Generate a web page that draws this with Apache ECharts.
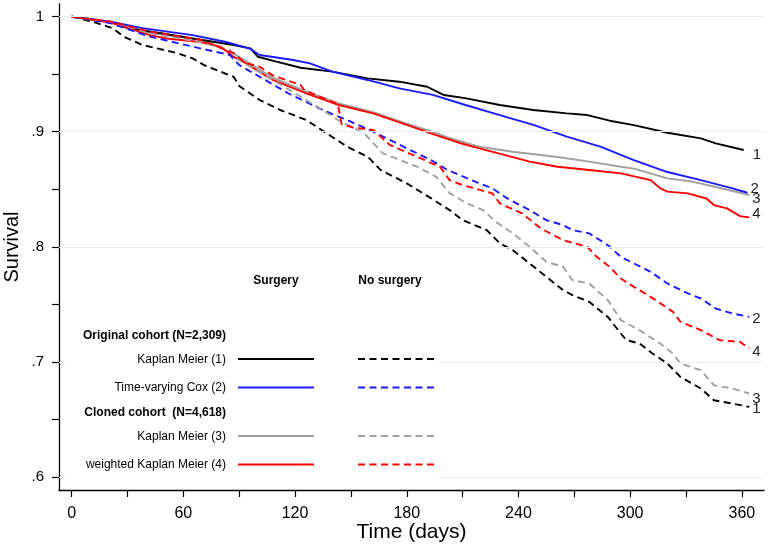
<!DOCTYPE html>
<html>
<head>
<meta charset="utf-8">
<script src="https://cdn.jsdelivr.net/npm/echarts@6/dist/echarts.min.js"></script>
<style>html,body{margin:0;padding:0;background:#fff}#c{width:768px;height:547px}</style>
</head>
<body>
<div id="c"></div>
<script>
// ---- Tick definitions ----
var xTickValues = [0, 30, 60, 90, 120, 150, 180, 210, 240, 270, 300, 330, 360];
var xLabelValues = [0, 60, 120, 180, 240, 300, 360];
var yTickValues = [0.6, 0.65, 0.7, 0.75, 0.8, 0.85, 0.9, 0.95, 1];
var yLabelValues = [0.6, 0.7, 0.8, 0.9, 1];
var yGridValues = [0.6, 0.7, 0.8, 0.9, 1];

// ---- Surgery (solid) ----
var km1SurgDays = [0,21,30,48,65,87,96,100,110,123,140,159,176,191,200,212,230,248,266,277,289,302,320,338,346,361];
var km1SurgSurv = [1,.9954,.990,.9856,.981,.9754,.9725,.9652,.9609,.9556,.9522,.9464,.9435,.9391,.9319,.929,.9232,.9189,.916,.9145,.9096,.9058,.8991,.8942,.8899,.8841];

var cox2SurgDays = [0,21,38,65,83,96,101,119,128,140,159,176,194,212,230,248,266,284,302,320,338,355,363];
var cox2SurgSurv = [1,.9957,.990,.984,.978,.972,.9667,.9623,.9594,.9522,.945,.9377,.932,.923,.9145,.906,.8957,.887,.8754,.865,.858,.8508,.847];

var km3SurgDays = [0,21,42,69,87,108,126,144,162,180,193,203,219,237,261,278,295,302,320,334,346,364];
var km3SurgSurv = [1,.9955,.986,.980,.968,.947,.935,.9245,.917,.907,.9006,.8945,.887,.8826,.878,.874,.8696,.868,.8595,.8565,.852,.845];

var wkm4SurgDays = [0,21,42,51,69,80,87,93,108,126,144,162,180,193,209,219,237,246,261,278,295,311,316,320,331,341,345,352,359,364];
var wkm4SurgSurv = [1,.9948,.984,.981,.978,.974,.965,.960,.945,.9334,.923,.916,.906,.8986,.890,.8856,.878,.874,.8696,.8667,.8638,.858,.851,.848,.8464,.842,.8363,.8334,.8267,.8256];

// ---- No surgery (dashed) ----
var km1NoDays = [0,11,22,28,38,57,65,71,80,87,90,101,112,126,137,148,159,166,180,193,203,210,223,230,237,246,255,264,269,278,288,295,298,305,312,320,327,338,345,355,364];
var km1NoSurv = [1,.9957,.990,.9826,.9754,.9682,.9638,.958,.9522,.9478,.9397,.9276,.9189,.9102,.8986,.887,.8783,.8667,.8551,.8423,.8319,.8232,.8145,.803,.7971,.7856,.7739,.7623,.758,.7522,.7391,.7247,.7189,.716,.7073,.6986,.687,.6769,.6667,.6638,.6609];

var cox2NoDays = [0,21,42,69,85,90,101,117,135,150,162,180,193,202,219,226,234,246,255,264,269,278,288,295,302,311,320,331,338,346,355,364];
var cox2NoSurv = [1,.9943,.9826,.9725,.9667,.958,.9478,.9328,.9189,.9087,.900,.8856,.8754,.8667,.8551,.8508,.8421,.8319,.8232,.8189,.8145,.8117,.8015,.7913,.7856,.7783,.7682,.7595,.7551,.7464,.7421,.7391];

var km3NoDays = [0,21,42,69,85,90,105,123,133,143,157,167,186,196,203,212,221,228,237,246,255,264,269,278,288,295,305,316,323,327,338,345,355,364];
var km3NoSurv = [1,.9957,.9856,.978,.971,.9623,.948,.9304,.9206,.9102,.8989,.8815,.8693,.8606,.8467,.838,.8319,.8215,.8117,.80,.787,.7826,.771,.7682,.7537,.7363,.7276,.716,.7073,.6986,.6928,.6797,.6769,.6725];

var wkm4NoDays = [0,21,42,69,87,93,101,108,123,125,143,145,151,162,171,186,198,203,210,226,230,242,252,264,277,282,289,295,302,311,323,327,338,348,359,364];
var wkm4NoSurv = [1,.9957,.987,.980,.9684,.960,.9565,.949,.9406,.936,.924,.9067,.9037,.9015,.8884,.878,.8693,.858,.8537,.8464,.8377,.829,.816,.8058,.80,.7913,.7826,.7725,.7652,.7565,.7435,.7348,.7276,.7189,.7174,.7117];

var FONT = "'Liberation Sans', Arial, sans-serif";
var DASH = [7, 4.5];

function pairs(d, v) { return d.map(function (x, i) { return [x, v[i]]; }); }

function curve(name, days, surv, color, dashed, lbl, dist, dy, z) {
  return {
    type: 'line', name: name, data: pairs(days, surv), showSymbol: false, symbol: 'none',
    z: z, silent: true,
    lineStyle: { color: color, width: 1.9, type: dashed ? DASH : 'solid', cap: 'butt' },
    endLabel: { show: true, formatter: lbl, distance: dist, offset: [0, dy],
      fontFamily: FONT, fontSize: 15, color: '#222' }
  };
}

var chart = echarts.init(document.getElementById('c'), null, { renderer: 'canvas' });

var legendRows = [
  { text: 'Original cohort (N=2,309)', y: 336, bold: true },
  { text: 'Kaplan Meier (1)', y: 359.5, color: '#000000' },
  { text: 'Time-varying Cox (2)', y: 388, color: '#1a1aff' },
  { text: 'Cloned cohort  (N=4,618)', y: 412.5, bold: true },
  { text: 'Kaplan Meier (3)', y: 436.5, color: '#a0a0a0' },
  { text: 'weighted Kaplan Meier (4)', y: 465, color: '#ff0000' }
];

var graphics = [{ type: 'rect', shape: { x: 66, y: 262, width: 373, height: 221 }, style: { fill: '#fff' }, z: 100, silent: true },
  { type: 'text', x: 276, y: 281, style: { text: 'Surgery', font: 'bold 12px ' + FONT, fill: '#000', textAlign: 'center', textVerticalAlign: 'middle' }, z: 101 },
  { type: 'text', x: 390, y: 281, style: { text: 'No surgery', font: 'bold 12px ' + FONT, fill: '#000', textAlign: 'center', textVerticalAlign: 'middle' }, z: 101 }];
legendRows.forEach(function (r) {
  graphics.push({ type: 'text', x: 226, y: r.y, z: 101,
    style: { text: r.text, font: (r.bold ? 'bold ' : '') + '12px ' + FONT, fill: '#000', textAlign: 'right', textVerticalAlign: 'middle' } });
  if (r.color) {
    var ly = r.y - 0.5;
    graphics.push({ type: 'line', z: 101, shape: { x1: 238, y1: ly, x2: 314, y2: ly }, style: { stroke: r.color, lineWidth: 1.9 } });
    graphics.push({ type: 'line', z: 101, shape: { x1: 358, y1: ly, x2: 435, y2: ly }, style: { stroke: r.color, lineWidth: 1.9, lineDash: DASH } });
  }
});

chart.setOption({
  animation: false,
  backgroundColor: '#fff',
  grid: { left: 59, right: 4, top: 4, bottom: 57, containLabel: false, outerBoundsMode: 'none' },
  xAxis: {
    type: 'value', min: -6.8, max: 371.9,
    name: 'Time (days)', nameLocation: 'middle', nameGap: 32, nameMoveOverlap: false,
    nameTextStyle: { fontFamily: FONT, fontSize: 21, color: '#000' },
    axisLine: { show: true, onZero: false, lineStyle: { color: '#000', width: 1.3 } },
    axisTick: { show: true, length: 7, customValues: xTickValues, lineStyle: { color: '#000', width: 1.2 } },
    axisLabel: { customValues: xLabelValues, fontFamily: FONT, fontSize: 16, color: '#000', margin: 16 },
    splitLine: { show: false }
  },
  yAxis: {
    type: 'value', min: 0.5887, max: 1.011,
    name: 'Survival', nameLocation: 'middle', nameGap: 37, nameMoveOverlap: false,
    nameTextStyle: { fontFamily: FONT, fontSize: 20, color: '#000' },
    axisLine: { show: true, onZero: false, lineStyle: { color: '#000', width: 1.3 } },
    axisTick: { show: true, length: 7, customValues: yTickValues, lineStyle: { color: '#000', width: 1.2 } },
    axisLabel: { customValues: yLabelValues, fontFamily: FONT, fontSize: 15, color: '#000', margin: 15,
      formatter: function (v) { return v >= 0.999 ? '1' : '.' + Math.round(v * 10); } },
    splitLine: { show: false }
  },
  graphic: graphics,
  series: [
    { type: 'line', name: 'grid', data: [], z: 1, silent: true,
      markLine: { silent: true, symbol: ['none', 'none'], label: { show: false },
        lineStyle: { color: '#e4edf0', width: 1.2, type: 'solid' },
        data: yGridValues.map(function (v) { return { yAxis: v }; }) } },
    curve('Kaplan Meier (1), surgery', km1SurgDays, km1SurgSurv, '#000000', false, '1', 9, 5, 3),
    curve('Time-varying Cox (2), surgery', cox2SurgDays, cox2SurgSurv, '#1a1aff', false, '2', 3, -4, 3),
    curve('Kaplan Meier (3), surgery', km3SurgDays, km3SurgSurv, '#a0a0a0', false, '3', 3, 4, 2),
    curve('weighted Kaplan Meier (4), surgery', wkm4SurgDays, wkm4SurgSurv, '#ff0000', false, '4', 3, -4, 3),
    curve('Kaplan Meier (1), no surgery', km1NoDays, km1NoSurv, '#000000', true, '1', 3, 2, 3),
    curve('Time-varying Cox (2), no surgery', cox2NoDays, cox2NoSurv, '#1a1aff', true, '2', 3, 1.5, 3),
    curve('Kaplan Meier (3), no surgery', km3NoDays, km3NoSurv, '#a0a0a0', true, '3', 3, 5, 3),
    curve('weighted Kaplan Meier (4), no surgery', wkm4NoDays, wkm4NoSurv, '#ff0000', true, '4', 3, 3.5, 3)
  ]
});
</script>
</body>
</html>
